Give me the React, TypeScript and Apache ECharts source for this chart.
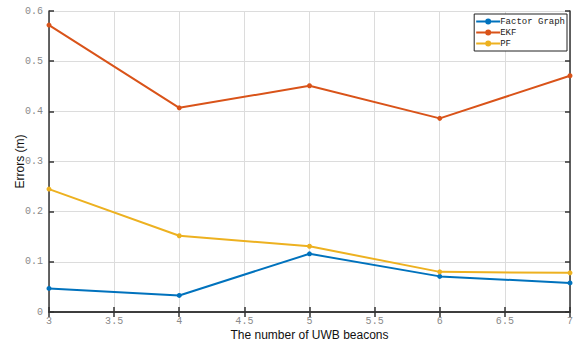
import React, { useEffect, useRef } from "react";
import * as echarts from "echarts";

const beacons = [3, 4, 5, 6, 7];
const factorGraph = [0.047, 0.033, 0.116, 0.071, 0.058];
const ekf = [0.572, 0.407, 0.451, 0.386, 0.471];
const pf = [0.245, 0.152, 0.131, 0.080, 0.078];
const seriesNames = ["Factor Graph", "EKF", "PF"];
const colors = ["#0072BD", "#D95319", "#EDB120"];

const tickFont = { fontFamily: "Liberation Mono, DejaVu Sans Mono, monospace", fontSize: 10, color: "#8a8a8a" };

export default function App() {
  const ref = useRef<HTMLDivElement>(null);
  useEffect(() => {
    const chart = echarts.init(ref.current!, null, { renderer: "svg" });
    const mk = (vals: number[]) => beacons.map((b, i) => [b, vals[i]]);
    const data = [factorGraph, ekf, pf];
    const axisLine = { show: true, lineStyle: { color: "#333", width: 1.5 } };
    chart.setOption({
      animation: false,
      backgroundColor: "#fff",
      grid: { left: 49, right: 2, top: 11, bottom: 34, containLabel: false },
      legend: {
        show: true,
        orient: "vertical",
        right: 9,
        top: 14,
        itemWidth: 24,
        itemHeight: 6,
        itemGap: 2,
        padding: [3, 2, 3, 2],
        borderColor: "#222",
        borderWidth: 1,
        backgroundColor: "#fff",
        textStyle: { fontFamily: "Liberation Mono, DejaVu Sans Mono, monospace", fontSize: 9, color: "#222", padding: [0, 0, 0, -5] },
        data: seriesNames.map((n) => ({ name: n, icon: "path://M0,4L24,4L24,6L0,6Z M9,5a3,3 0 1,1 6,0a3,3 0 1,1 -6,0Z" })),
      },
      xAxis: [
        {
          type: "value",
          min: 3,
          max: 7,
          interval: 0.5,
          name: "The number of UWB beacons",
          nameLocation: "middle",
          nameGap: 17,
          nameMoveOverlap: false,
          nameTextStyle: { fontFamily: "Liberation Sans, Arial, sans-serif", fontSize: 12, color: "#111" },
          axisLine,
          axisTick: { show: true, inside: true, length: 5, lineStyle: { color: "#333", width: 1.5 } },
          axisLabel: { ...tickFont, margin: 4 },
          splitLine: { show: true, lineStyle: { color: "#dcdcdc", width: 1 } },
        },
        {
          type: "value",
          position: "top",
          min: 3,
          max: 7,
          interval: 0.5,
          axisLine,
          axisTick: { show: true, inside: true, length: 5, lineStyle: { color: "#333", width: 1.5 } },
          axisLabel: { show: false },
          splitLine: { show: false },
        },
      ],
      yAxis: [
        {
          type: "value",
          min: 0,
          max: 0.6,
          interval: 0.1,
          name: "Errors (m)",
          nameLocation: "middle",
          nameGap: 23,
          nameMoveOverlap: false,
          nameTextStyle: { fontFamily: "Liberation Sans, Arial, sans-serif", fontSize: 12, color: "#111" },
          axisLine,
          axisTick: { show: true, inside: true, length: 5, lineStyle: { color: "#333", width: 1.5 } },
          axisLabel: { ...tickFont, margin: 6 },
          splitLine: { show: true, lineStyle: { color: "#dcdcdc", width: 1 } },
        },
        {
          type: "value",
          position: "right",
          min: 0,
          max: 0.6,
          interval: 0.1,
          axisLine,
          axisTick: { show: true, inside: true, length: 5, lineStyle: { color: "#333", width: 1.5 } },
          axisLabel: { show: false },
          splitLine: { show: false },
        },
      ],
      series: seriesNames.map((n, i) => ({
        name: n,
        type: "line",
        data: mk(data[i]),
        color: colors[i],
        symbol: "circle",
        symbolSize: 5,
        lineStyle: { width: 2, color: colors[i] },
        itemStyle: { color: colors[i] },
        z: 3 + i,
      })),
    });
    return () => chart.dispose();
  }, []);
  return <div ref={ref} style={{ position: "fixed", left: 0, top: 0, width: 576, height: 346 }} />;
}
